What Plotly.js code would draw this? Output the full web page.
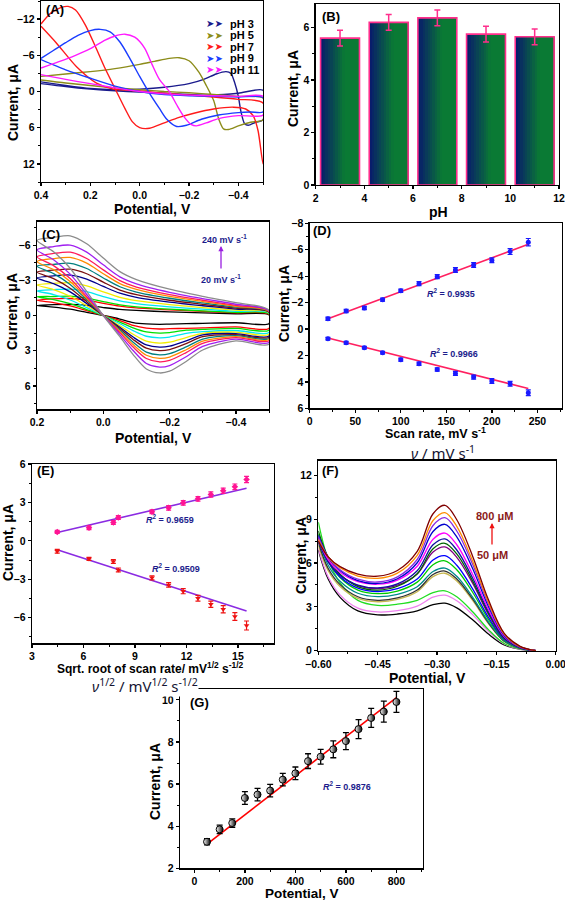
<!DOCTYPE html>
<html><head><meta charset="utf-8">
<script src="https://cdn.plot.ly/plotly-3.0.1.min.js"></script>
<style>html,body{margin:0;padding:0;background:#fff}#chart{width:565px;height:900px}</style>
</head><body><div id="chart"></div>
<script>
// ---------- Panel A : CV at different pH ----------
const pHLabels = ['pH 3','pH 5','pH 7','pH 9','pH 11'];
const pH3_x = [0.40,0.30,0.20,0.10,0.00,-0.10,-0.20,-0.26,-0.31,-0.35,-0.37,-0.385,-0.40,-0.41,-0.425,-0.44,-0.47,-0.50,-0.50,-0.40,-0.30,-0.20,-0.10,0.00,0.10,0.20,0.30,0.40];
const pH3_y = [-1.6,-1.0,-0.5,-0.3,-0.4,-0.7,-1.3,-2.0,-2.9,-3.3,-3.0,-1.5,0.8,3.2,5.3,5.6,5.1,4.7,-0.2,0.3,0.6,0.5,0.3,0.1,-0.1,-0.4,-0.8,-1.3];
const pH5_x = [0.40,0.30,0.20,0.10,0.00,-0.06,-0.12,-0.16,-0.20,-0.24,-0.27,-0.30,-0.32,-0.34,-0.36,-0.40,-0.45,-0.50,-0.50,-0.40,-0.30,-0.20,-0.10,0.00,0.10,0.20,0.30,0.40];
const pH5_y = [-2.5,-2.9,-3.3,-3.8,-4.5,-5.0,-5.5,-5.6,-5.1,-3.2,-1.0,1.5,4.5,6.2,6.3,5.7,5.1,4.7,1.1,0.8,0.5,0.2,0.0,-0.3,-0.6,-1.0,-1.4,-1.9];
const pH7_x = [0.40,0.36,0.32,0.29,0.26,0.22,0.18,0.14,0.10,0.06,0.03,0.00,-0.04,-0.10,-0.16,-0.22,-0.30,-0.38,-0.43,-0.46,-0.48,-0.50,-0.50,-0.40,-0.30,-0.20,-0.10,0.00,0.107,0.175,0.256,0.337,0.40];
const pH7_y = [-11.2,-13.0,-13.9,-14.1,-13.5,-11.0,-7.5,-3.8,-0.5,2.8,5.0,6.0,6.1,5.2,4.3,3.6,2.9,2.6,2.9,4.0,6.5,12.0,1.9,1.3,0.9,0.6,0.3,-0.1,-0.4,-1.4,-4.1,-8.0,-10.8];
const pH9_x = [0.40,0.35,0.30,0.25,0.20,0.16,0.12,0.08,0.04,0.00,-0.04,-0.08,-0.11,-0.15,-0.19,-0.25,-0.32,-0.40,-0.45,-0.50,-0.50,-0.40,-0.30,-0.20,-0.10,0.00,0.10,0.20,0.30,0.40];
const pH9_y = [-5.5,-6.8,-8.1,-9.3,-10.1,-10.3,-9.9,-8.2,-5.5,-2.5,0.3,2.8,4.6,5.8,5.6,4.6,3.9,3.5,3.4,3.4,1.0,0.9,0.8,0.7,0.5,0.0,-0.9,-2.2,-3.6,-5.3];
const pH11_x = [0.40,0.33,0.26,0.20,0.14,0.10,0.06,0.02,-0.02,-0.05,-0.08,-0.12,-0.15,-0.18,-0.21,-0.23,-0.27,-0.32,-0.40,-0.50,-0.50,-0.40,-0.30,-0.20,-0.10,0.00,0.10,0.20,0.30,0.40];
const pH11_y = [-3.9,-4.9,-6.0,-7.1,-8.5,-9.2,-9.5,-9.0,-7.2,-4.5,-2.0,0.0,2.2,4.2,5.5,5.7,5.2,4.5,4.0,3.9,0.8,0.8,0.7,0.6,0.4,0.0,-0.6,-1.3,-2.0,-2.8];

// ---------- Panel B : peak current vs pH ----------
const pHValues = [3,5,7,9,11];
const pHCurrent = [5.6,6.2,6.37,5.75,5.65];
const pHError = [0.3,0.3,0.3,0.3,0.3];

// ---------- Panel C : CVs at scan rates 20..240 mV/s ----------
const cvC_x = [0.2,0.15,0.1,0.05,0.0,-0.05,-0.1,-0.2,-0.3,-0.4,-0.5,-0.5,-0.4,-0.3,-0.25,-0.2,-0.17,-0.13,-0.09,-0.05,0.0,0.05,0.1,0.15,0.2];
const cvC_20  = [-0.85,-0.93,-0.95,-0.86,-0.68,-0.52,-0.43,-0.31,-0.23,-0.15,-0.05,0.7,0.62,0.67,0.7,0.73,0.75,0.72,0.6,0.3,0,-0.27,-0.54,-0.72,-0.85];
const cvC_40  = [-1.3,-1.42,-1.45,-1.31,-1.04,-0.8,-0.65,-0.48,-0.35,-0.23,-0.1,1.1,0.97,1.05,1.1,1.12,1.15,1.08,0.85,0.43,0,-0.42,-0.82,-1.1,-1.3];
const cvC_60  = [-1.6,-1.62,-1.65,-1.49,-1.19,-0.91,-0.74,-0.54,-0.4,-0.26,-0.15,1.25,1.1,1.19,1.25,1.46,1.5,1.4,1.05,0.56,0,-0.51,-1.01,-1.36,-1.6];
const cvC_80  = [-2.1,-2.2,-2.25,-2.03,-1.62,-1.24,-1.01,-0.74,-0.54,-0.36,-0.2,1.45,1.28,1.38,1.52,1.84,1.9,1.77,1.29,0.7,0,-0.67,-1.32,-1.79,-2.1];
const cvC_100 = [-2.6,-2.74,-2.8,-2.52,-2.02,-1.54,-1.26,-0.92,-0.67,-0.45,-0.25,1.6,1.41,1.52,1.88,2.28,2.35,2.19,1.6,0.87,0,-0.83,-1.64,-2.21,-2.6];
const cvC_120 = [-3.2,-3.38,-3.45,-3.11,-2.48,-1.9,-1.55,-1.14,-0.83,-0.55,-0.3,1.75,1.54,1.66,2.16,2.62,2.7,2.51,1.84,1.0,0,-1.02,-2.02,-2.72,-3.2];
const cvC_140 = [-3.7,-3.87,-3.95,-3.56,-2.84,-2.17,-1.78,-1.3,-0.95,-0.63,-0.3,1.85,1.63,1.8,2.4,2.91,3.0,2.79,2.04,1.11,0,-1.18,-2.33,-3.15,-3.7];
const cvC_160 = [-4.2,-4.36,-4.45,-4.01,-3.2,-2.45,-2.0,-1.47,-1.07,-0.71,-0.35,1.95,1.72,2.01,2.68,3.25,3.35,3.12,2.28,1.24,0,-1.34,-2.65,-3.57,-4.2];
const cvC_180 = [-4.6,-4.85,-4.95,-4.46,-3.56,-2.72,-2.23,-1.63,-1.19,-0.79,-0.35,2.05,1.8,2.19,2.92,3.54,3.65,3.39,2.48,1.35,0,-1.47,-2.9,-3.91,-4.6];
const cvC_200 = [-5.0,-5.29,-5.4,-4.86,-3.89,-2.97,-2.43,-1.78,-1.3,-0.86,-0.4,2.15,1.89,2.37,3.16,3.83,3.95,3.67,2.69,1.46,0,-1.6,-3.15,-4.25,-5.0];
const cvC_220 = [-5.6,-5.88,-6.0,-5.4,-4.32,-3.3,-2.7,-1.98,-1.44,-0.96,-0.4,2.3,2.02,2.64,3.52,4.27,4.4,4.09,2.99,1.63,0,-1.79,-3.53,-4.76,-5.6];
const cvC_240 = [-6.4,-6.66,-6.8,-6.12,-4.9,-3.74,-3.06,-2.24,-1.63,-1.09,-0.45,2.45,2.16,2.94,3.92,4.75,4.9,4.56,3.33,1.81,0,-2.05,-4.03,-5.44,-6.4];

// ---------- Panel D : peak current vs scan rate ----------
const scanRate = [20,40,60,80,100,120,140,160,180,200,220,240];
const ipaD = [-0.78,-1.36,-1.59,-2.22,-2.9,-3.43,-3.96,-4.47,-4.85,-5.2,-5.86,-6.57];
const ipaDErr = [0.12,0.12,0.12,0.12,0.12,0.15,0.15,0.18,0.18,0.18,0.22,0.28];
const ipcD = [0.73,1.04,1.41,1.79,2.32,2.63,3.06,3.36,3.64,3.94,4.14,4.82];
const ipcDErr = [0.1,0.1,0.1,0.1,0.12,0.12,0.12,0.15,0.15,0.18,0.18,0.22];
const fitD_x = [20,240];
const fitD_a = [-0.78,-6.41];
const fitD_c = [0.68,4.5];

// ---------- Panel E : peak current vs sqrt(scan rate) ----------
const sqrtRate = [4.47,6.32,7.74,8.03,9.99,10.96,11.81,12.67,13.42,14.14,14.82,15.5];
const ipE_up = [0.70,1.02,1.43,1.82,2.27,2.58,2.97,3.28,3.62,3.91,4.22,4.79];
const ipE_upErr = [0.12,0.15,0.15,0.15,0.15,0.18,0.18,0.18,0.2,0.2,0.22,0.25];
const ipE_dn = [-0.81,-1.41,-1.61,-2.27,-2.89,-3.44,-3.93,-4.48,-4.95,-5.34,-5.91,-6.61];
const ipE_dnErr = [0.15,0.12,0.15,0.15,0.15,0.18,0.2,0.22,0.25,0.28,0.3,0.35];
const fitE_x = [4.47,15.5];
const fitE_up = [0.65,4.11];
const fitE_dn = [-0.70,-5.47];

// ---------- Panel F : DPV at 50..800 uM ----------
const dpvF_x = [-0.60,-0.575,-0.545,-0.50,-0.45,-0.40,-0.35,-0.31,-0.28,-0.25,-0.21,-0.17,-0.13,-0.09,-0.05];
const dpv50  = [6.9,4.9,3.65,2.72,2.45,2.51,2.73,3.15,3.25,2.93,2.11,1.14,0.39,0.1,0];
const dpv100 = [7.0,5.04,3.82,2.91,2.65,2.74,3.05,3.66,3.8,3.42,2.47,1.33,0.46,0.11,0];
const dpv150 = [8.8,6.24,4.64,3.44,3.1,3.18,3.45,3.98,4.1,3.69,2.67,1.44,0.49,0.12,0];
const dpv200 = [7.2,5.47,4.39,3.58,3.35,3.51,4.03,5.07,5.3,4.77,3.45,1.86,0.64,0.16,0];
const dpv250 = [7.4,5.62,4.52,3.69,3.45,3.61,4.15,5.21,5.45,4.91,3.54,1.91,0.65,0.16,0];
const dpv300 = [7.6,5.85,4.75,3.93,3.7,3.86,4.38,5.42,5.65,5.09,3.67,1.98,0.68,0.17,0];
const dpv350 = [8.0,6.16,5.01,4.15,3.9,4.08,4.69,5.88,6.15,5.54,4.0,2.15,0.74,0.18,0];
const dpv400 = [7.8,6.11,5.06,4.28,4.05,4.25,4.91,6.21,6.5,5.85,4.23,2.28,0.78,0.2,0];
const dpv450 = [7.7,6.15,5.18,4.46,4.25,4.48,5.25,6.76,7.1,6.39,4.62,2.49,0.85,0.21,0];
const dpv500 = [8.2,6.38,5.24,4.39,4.15,4.41,5.27,6.97,7.35,6.62,4.78,2.57,0.88,0.22,0];
const dpv550 = [7.5,6.06,5.16,4.49,4.3,4.57,5.47,7.25,7.65,6.89,4.97,2.68,0.92,0.23,0];
const dpv600 = [7.6,6.23,5.37,4.73,4.55,4.83,5.78,7.63,8.05,7.25,5.23,2.82,0.97,0.24,0];
const dpv650 = [7.9,6.42,5.49,4.8,4.6,4.92,6.02,8.16,8.65,7.79,5.62,3.03,1.04,0.26,0];
const dpv700 = [7.8,6.41,5.54,4.89,4.7,5.05,6.24,8.57,9.1,8.19,5.92,3.19,1.09,0.27,0];
const dpv750 = [7.6,6.41,5.67,5.11,4.95,5.31,6.53,8.91,9.45,8.51,6.14,3.31,1.13,0.28,0];
const dpv800 = [7.5,6.42,5.75,5.24,5.1,5.49,6.8,9.37,9.95,8.96,6.47,3.48,1.19,0.3,0];

// ---------- Panel G : calibration ----------
const concG = [50,100,150,200,250,300,350,400,450,500,550,600,650,700,750,800];
const currG = [3.26,3.85,4.15,5.34,5.5,5.69,6.21,6.51,7.09,7.3,7.65,8.04,8.61,9.14,9.44,9.9];
const errG  = [0.15,0.2,0.2,0.3,0.3,0.3,0.3,0.3,0.35,0.35,0.4,0.4,0.45,0.45,0.5,0.5];
const fitG_x = [50,800];
const fitG_y = [3.15,10.1];

// ================= styling / build =================
const FONT = 'Liberation Sans, Arial, sans-serif';
const traces = [];
function line2(xs, ys, color, xa, ya){traces.push({x:xs,y:ys,mode:'lines',line:{color:color,width:1.6},xaxis:xa,yaxis:ya,hoverinfo:'skip'});}

// A
const aColors = ['#1a1a8c','#8c8c1a','#ff1a1a','#1a3cff','#ff1aff'];
[[pH3_x,pH3_y],[pH5_x,pH5_y],[pH7_x,pH7_y],[pH9_x,pH9_y],[pH11_x,pH11_y]].forEach((d,i)=>{
  traces.push({x:d[0],y:d[1],mode:'lines',name:pHLabels[i],line:{color:aColors[i],width:1.4,shape:'spline',smoothing:0.7},xaxis:'x',yaxis:'y'});
});

// B gradient bars (slices)
const N=16, BW=1.6;
const c0=[8,24,110], c1=[10,122,52];
for(let i=0;i<N;i++){
  let t=Math.min(1,(i+0.5)/N/0.62);
  const col='rgb('+c0.map((v,k)=>Math.round(v+(c1[k]-v)*t)).join(',')+')';
  traces.push({type:'bar',x:pHValues,y:pHCurrent,width:BW/N*1.2,offset:-BW/2+i*BW/N,marker:{color:col,line:{width:0}},xaxis:'x2',yaxis:'y2',hoverinfo:'skip'});
}
traces.push({type:'bar',x:pHValues,y:pHCurrent,width:BW,offset:-BW/2,marker:{color:'rgba(0,0,0,0)',line:{color:'#ff2e8c',width:1.6}},xaxis:'x2',yaxis:'y2'});
traces.push({type:'scatter',mode:'markers',x:pHValues,y:pHCurrent,marker:{size:1,color:'rgba(0,0,0,0)'},error_y:{type:'data',array:pHError,color:'#ff2e8c',thickness:1.5,width:3},xaxis:'x2',yaxis:'y2'});

// C
const cColors = ['#000000','#ff0000','#00e000','#00e8f0','#f2ec00','#00008c','#7a1010','#007f7f','#ff8a00','#ff1a5a','#a020f0','#8c8c8c'];
[cvC_20,cvC_40,cvC_60,cvC_80,cvC_100,cvC_120,cvC_140,cvC_160,cvC_180,cvC_200,cvC_220,cvC_240].forEach((ys,i)=>{
  traces.push({x:cvC_x,y:ys,mode:'lines',line:{color:cColors[i],width:1.3,shape:'spline',smoothing:0.8},xaxis:'x3',yaxis:'y3'});
});

// D
line2(fitD_x, fitD_a, '#ff2060','x4','y4');
line2(fitD_x, fitD_c, '#ff2060','x4','y4');
traces.push({x:scanRate,y:ipaD,mode:'markers',marker:{color:'#1a1aff',size:5},error_y:{type:'data',array:ipaDErr,color:'#1a1aff',thickness:1.2,width:2.5},xaxis:'x4',yaxis:'y4'});
traces.push({x:scanRate,y:ipcD,mode:'markers',marker:{color:'#1a1aff',size:5},error_y:{type:'data',array:ipcDErr,color:'#1a1aff',thickness:1.2,width:2.5},xaxis:'x4',yaxis:'y4'});

// E
line2(fitE_x, fitE_up, '#8a2be2','x5','y5');
line2(fitE_x, fitE_dn, '#8a2be2','x5','y5');
traces.push({x:sqrtRate,y:ipE_up,mode:'markers',marker:{color:'#ff1493',size:5,symbol:'diamond'},error_y:{type:'data',array:ipE_upErr,color:'#ff1493',thickness:1.2,width:2.5},xaxis:'x5',yaxis:'y5'});
traces.push({x:sqrtRate,y:ipE_dn,mode:'markers',marker:{color:'#ee1111',size:5,symbol:'triangle-down'},error_y:{type:'data',array:ipE_dnErr,color:'#ee1111',thickness:1.2,width:2.5},xaxis:'x5',yaxis:'y5'});

// F
const fColors = ['#000000','#ee82ee','#22dd22','#c8b850','#333333','#008b8b','#00cc00','#0000ff','#800080','#006400','#1010a0','#ff00ff','#0000cd','#8a2be2','#ff8c00','#800000'];
[dpv50,dpv100,dpv150,dpv200,dpv250,dpv300,dpv350,dpv400,dpv450,dpv500,dpv550,dpv600,dpv650,dpv700,dpv750,dpv800].forEach((ys,i)=>{
  traces.push({x:dpvF_x,y:ys,mode:'lines',line:{color:fColors[i],width:1.3,shape:'spline',smoothing:1},xaxis:'x6',yaxis:'y6'});
});

// G
line2(fitG_x, fitG_y, '#ff0000','x7','y7');
traces.push({x:concG,y:currG,mode:'markers',marker:{color:'#ffffff',size:7,gradient:{type:'horizontal',color:'#000000'},line:{color:'#000',width:1}},error_y:{type:'data',array:errG,color:'#000',thickness:1.3,width:3},xaxis:'x7',yaxis:'y7'});

// axes
const W=565,H=900;
function dx(a,b){return [a/W,b/W];}
function dy(top,bot){return [1-bot/H,1-top/H];}
function ax(dom, range, dtick, minor, anchor, extra){
  return Object.assign({domain:dom, range:range, dtick:dtick, tick0:0, anchor:anchor, showline:true, mirror:true, linecolor:'#000', linewidth:1.3,
    ticks:'outside', ticklen:3, tickwidth:1.3, tickcolor:'#000', showgrid:false, zeroline:false, fixedrange:true, ticklabeloverflow:'allow',
    tickfont:{family:FONT,size:10.5,color:'#000',weight:'bold'},
    minor:{ticks:'outside', ticklen:2, dtick:minor, tickcolor:'#000', tickwidth:1}}, extra||{});
}
const CUR='Current, \u03bcA';
const layout = {
  width:W, height:H, margin:{l:0,r:0,t:0,b:0}, paper_bgcolor:'#fff', plot_bgcolor:'#fff', showlegend:false,
  barmode:'overlay', bargap:0, font:{family:FONT,color:'#000'},
  xaxis: ax(dx(41,263), [0.4,-0.5], 0.2, 0.1, 'y', {tickformat:'.1f'}),
  yaxis: ax(dy(1,182), [15,-15], 6, 3, 'x'),
  xaxis2: ax(dx(315.7,559), [2,12], 2, 1, 'y2'),
  yaxis2: ax(dy(4,185), [0,6.9], 2, 1, 'x2'),
  xaxis3: ax(dx(37,269), [0.2,-0.5], 0.2, 0.1, 'y3', {tickformat:'.1f'}),
  yaxis3: ax(dy(221.7,409.3), [8,-8], 3, 1.5, 'x3'),
  xaxis4: ax(dx(309.7,562), [0,277], 50, 25, 'y4'),
  yaxis4: ax(dy(223.3,408.3), [6,-8], 2, 1, 'x4'),
  xaxis5: ax(dx(32,274), [3,17.1], 3, 1.5, 'y5'),
  yaxis5: ax(dy(464,643.3), [-8,6], 3, 1.5, 'x5'),
  xaxis6: ax(dx(318.3,555.7), [-0.6,0], 0.15, 0.075, 'y6', {tickformat:'.2f'}),
  yaxis6: ax(dy(460.7,650.7), [0,13], 3, 1.5, 'x6'),
  xaxis7: ax(dx(180,422.7), [-57,904], 200, 100, 'y7'),
  yaxis7: ax(dy(689.3,868.3), [2,10.5], 2, 1, 'x7'),
  annotations: [],
  shapes: []
};
function ann(x,y,text,opts){layout.annotations.push(Object.assign({xref:'paper',yref:'paper',x:x/W,y:1-y/H,text:text,showarrow:false,xanchor:'center',yanchor:'middle',font:{family:FONT,size:12,color:'#000',weight:'bold'}},opts||{}));}
const TF={family:FONT,size:14,color:'#000',weight:'bold'};
const TFs={family:FONT,size:13.5,color:'#000',weight:'bold'};
// axis titles
ann(152,209,'Potential, V',{font:TF});
ann(13,103,CUR,{font:TF,textangle:-90});
ann(438,212,'pH',{font:TF});
ann(293,89,CUR,{font:TF,textangle:-90});
ann(153,438,'Potential, V',{font:TF});
ann(12,312,CUR,{font:TF,textangle:-90});
ann(435,433,'Scan rate, mV s<sup>-1</sup>',{font:{family:FONT,size:12.5,color:'#000',weight:'bold'}});
ann(284,304,CUR,{font:TF,textangle:-90});
ann(150,668,'Sqrt. root of scan rate/ mV<sup>1/2</sup> s<sup>-1/2</sup>',{font:{family:FONT,size:12,color:'#000',weight:'bold'}});
ann(8,543,CUR,{font:TF,textangle:-90});
ann(427,678,'Potential, V',{font:TF});
ann(301,556,CUR,{font:TF,textangle:-90});
ann(302,893,'Potential, V',{font:TFs});
ann(155,782,CUR,{font:TF,textangle:-90});
// panel labels
const PL={size:13,color:'#000',family:FONT,weight:'bold'};
ann(44,9,'(A)',{xanchor:'left',font:PL});
ann(320,16,'(B)',{xanchor:'left',font:PL});
ann(40,235,'(C)',{xanchor:'left',font:PL});
ann(311,231,'(D)',{xanchor:'left',font:PL});
ann(35,470,'(E)',{xanchor:'left',font:PL});
ann(320,470,'(F)',{xanchor:'left',font:PL});
ann(188,702,'(G)',{xanchor:'left',font:PL});
// legend of A
const legY=[24,35.5,47,58.5,70];
pHLabels.forEach((t,i)=>{
  ann(204,legY[i],'\u27a4\u27a4',{xanchor:'left',font:{family:'DejaVu Sans',size:10,color:aColors[i]}});
  ann(228,legY[i],t,{xanchor:'left',font:{family:FONT,size:11,color:'#000',weight:'bold'}});
});
// C annotations
const NAVY='#1c1c8c';
ann(224,239,'240 mV s<sup>-1</sup>',{font:{family:FONT,size:9,color:NAVY,weight:'bold'}});
ann(221,279,'20 mV s<sup>-1</sup>',{font:{family:FONT,size:9,color:NAVY,weight:'bold'}});
layout.annotations.push({xref:'paper',yref:'paper',axref:'pixel',ayref:'pixel',x:221/W,y:1-246/H,ax:0,ay:24,text:'',showarrow:true,arrowhead:2,arrowsize:0.8,arrowwidth:1.3,arrowcolor:'#9a20e0'});
// D R^2
ann(451,293,'<i>R</i><sup>2</sup> = 0.9935',{font:{family:FONT,size:9,color:NAVY,weight:'bold'}});
ann(454,353,'<i>R</i><sup>2</sup> = 0.9966',{font:{family:FONT,size:9,color:NAVY,weight:'bold'}});
// E R^2
ann(170,519,'<i>R</i><sup>2</sup> = 0.9659',{font:{family:FONT,size:9,color:NAVY,weight:'bold'}});
ann(176,568,'<i>R</i><sup>2</sup> = 0.9509',{font:{family:FONT,size:9,color:NAVY,weight:'bold'}});
// F annotations
ann(494,516,'800 \u03bcM',{font:{family:FONT,size:11,color:'#8b1a1a',weight:'bold'}});
ann(492,555,'50 \u03bcM',{font:{family:FONT,size:11,color:'#8b1a1a',weight:'bold'}});
layout.annotations.push({xref:'paper',yref:'paper',axref:'pixel',ayref:'pixel',x:492/W,y:1-523/H,ax:0,ay:23,text:'',showarrow:true,arrowhead:2,arrowsize:0.8,arrowwidth:1.3,arrowcolor:'#ee1111'});
// G R^2
ann(347,786,'<i>R</i><sup>2</sup> = 0.9876',{font:{family:FONT,size:9,color:NAVY,weight:'bold'}});
// extra nu labels
ann(443,452,'<i>\u03bd</i> / mV s<sup>-1</sup>',{font:{family:'Noto Sans',size:15,color:'#141432'}});
ann(145,685,'<i>\u03bd</i><sup>1/2</sup> / mV<sup>1/2</sup> s<sup>-1/2</sup>',{font:{family:'Noto Sans',size:15,color:'#141432'},bgcolor:'#ffffff',borderpad:0});

Plotly.newPlot('chart', traces, layout, {staticPlot:true});
</script></body></html>
